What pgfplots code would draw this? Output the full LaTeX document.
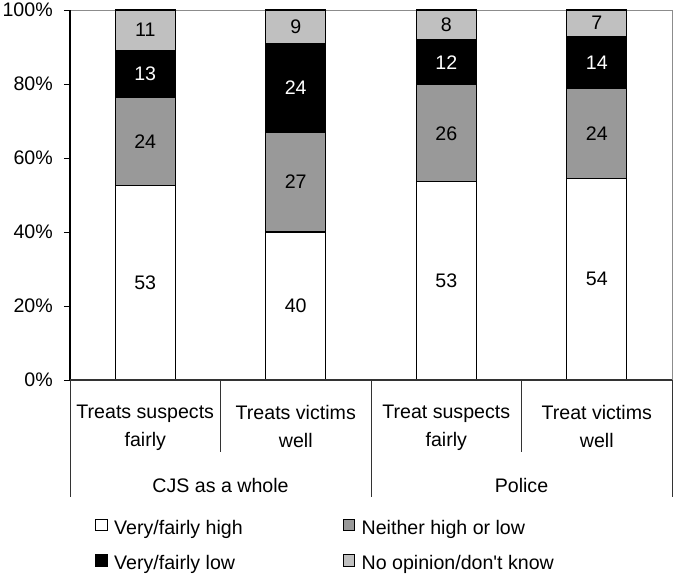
\documentclass[border=0pt]{standalone}
\usepackage{pgfplots}
\pgfplotsset{compat=1.18}
\usepackage{pgfplotstable}
\usepackage{fontspec}
\setmainfont{Liberation Sans}

\definecolor{midgray}{HTML}{999999}
\definecolor{lightgray}{HTML}{C0C0C0}
\definecolor{framegray}{HTML}{8C8C8C}

% values shown in the bars (lab) and their share of the bar's total (y)
\pgfplotstableread{
x  hi    hil  ne    nel  lo    lol  no    nol
0  52.48 53   23.76 24   12.87 13   10.89 11
1  40.00 40   27.00 27   24.00 24   9.00  9
2  53.54 53   26.26 26   12.12 12   8.08  8
3  54.55 54   24.24 24   14.14 14   7.07  7
}\shares

\begin{document}
\begin{tikzpicture}[font=\fontsize{14.7}{21}\selectfont]
\begin{axis}[
  name=ax,
  ybar stacked,
  x=112.875pt, y=2.775pt,
  xmin=-0.5, xmax=3.5, ymin=0, ymax=100,
  bar width=0.4,
  clip=false,
  axis line style={framegray},
  xtick={0,1,2,3},
  xticklabels={{Treats suspects\\fairly},{Treats victims\\well},{Treat suspects\\fairly},{Treat victims\\well}},
  xtick style={draw=none},
  xticklabel style={align=center, anchor=north, inner sep=0pt, yshift=-14pt},
  ytick={0,20,...,100},
  yticklabel={\pgfmathprintnumber{\tick}\%},
  ytick pos=left,
  tick align=outside,
  major tick length=4.5pt,
  ytick style={black, line width=0.6pt},
  yticklabel style={anchor=east, inner sep=0pt, xshift=-8.25pt},
  /pgf/number format/assume math mode=true,
  point meta=explicit symbolic,
  nodes near coords,
  every node near coord/.append style={anchor=center},
  legend columns=2,
  legend cell align=left,
  legend style={draw=none, fill=none, inner sep=0pt,
    at={(rel axis cs:0.0415,0)}, anchor=north west, yshift=-104pt,
    row sep=12pt,
    nodes={inner sep=0pt, text height=10pt, text depth=3pt},
    /tikz/every odd column/.append style={column sep=5pt},
    /tikz/every even column/.append style={column sep=75pt}},
  legend image code/.code={\draw[#1, line width=0.6pt] (0pt,-0.8pt) rectangle (8.6pt,7.8pt);},
]
\addplot[fill=white, draw=black, line width=0.8pt]
  table[x=x, y=hi, meta=hil] {\shares};
\addplot[fill=midgray, draw=black, line width=0.8pt]
  table[x=x, y=ne, meta=nel] {\shares};
\addplot[fill=black, draw=black, line width=0.8pt,
  every node near coord/.append style={text=white}]
  table[x=x, y=lo, meta=lol] {\shares};
\addplot[fill=lightgray, draw=black, line width=0.8pt]
  table[x=x, y=no, meta=nol] {\shares};
\legend{Very/fairly high, Neither high or low, Very/fairly low, No opinion/don\textquotesingle t know}

% category separators and group labels below the axis
\draw[black!80] (axis cs:0.5,0) -- ++(0pt,-54pt);
\draw[black!80] (axis cs:2.5,0) -- ++(0pt,-54pt);
\draw[black!80] (axis cs:-0.5,0) -- ++(0pt,-87.75pt);
\draw[black!80] (axis cs:1.5,0) -- ++(0pt,-87.75pt);
\draw[black!80] (axis cs:3.5,0) -- ++(0pt,-87.75pt);
\path (axis cs:0.5,0) ++(0pt,-84pt) node[anchor=base] {CJS as a whole};
\path (axis cs:2.5,0) ++(0pt,-84pt) node[anchor=base] {Police};
\end{axis}
\draw[black, line width=0.8pt] (ax.south west) -- (ax.north west);
\draw[black!80, line width=0.8pt] (ax.south west) -- (ax.south east);
\pgfresetboundingbox
\path ([xshift=-52.5pt, yshift=-149.25pt]ax.south west) rectangle ([xshift=4.5pt, yshift=7.5pt]ax.north east);
\end{tikzpicture}
\end{document}
